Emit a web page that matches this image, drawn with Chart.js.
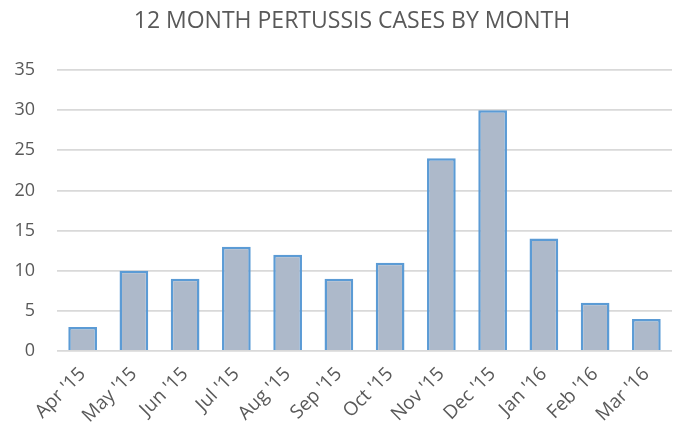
<!DOCTYPE html>
<html>
<head>
<meta charset="utf-8">
<script src="https://cdn.jsdelivr.net/npm/chart.js@4/dist/chart.umd.min.js"></script>
<style>
  html, body { margin: 0; padding: 0; background: #fff; }
  #wrap { width: 680px; height: 438px; }
</style>
</head>
<body>
<div id="wrap"><canvas id="pertussisChart" width="680" height="438"></canvas></div>
<script>
// Monthly pertussis cases, Apr 2015 - Mar 2016
const months = ["Apr '15", "May '15", "Jun '15", "Jul '15", "Aug '15", "Sep '15",
                "Oct '15", "Nov '15", "Dec '15", "Jan '16", "Feb '16", "Mar '16"];
const cases = [3, 10, 9, 13, 12, 9, 11, 24, 30, 14, 6, 4];
const yTicks = [0, 5, 10, 15, 20, 25, 30, 35];

const textColor = '#595959';
const fontFamily = "'Open Sans', 'Noto Sans', sans-serif";

// nudge the title a bit right, like the original
const titleShift = {
  id: 'titleShift',
  afterLayout(chart) {
    if (chart.titleBlock) chart.titleBlock.left += 32;
  }
};

const ctx = document.getElementById('pertussisChart').getContext('2d');
const pertussisChart = new Chart(ctx, {
  type: 'bar',
  data: {
    labels: months,
    datasets: [{
      label: 'Cases',
      data: cases,
      backgroundColor: '#adb9ca',
      borderColor: '#5b9bd5',
      borderWidth: 2.5,
      borderSkipped: 'bottom',
      categoryPercentage: 1,
      barPercentage: 0.56
    }]
  },
  options: {
    responsive: false,
    animation: false,
    layout: { padding: { left: 0, right: 8, top: 0, bottom: 0 } },
    plugins: {
      legend: { display: false },
      tooltip: { enabled: false },
      title: {
        display: true,
        text: '12 MONTH PERTUSSIS CASES BY MONTH',
        color: textColor,
        font: { family: fontFamily, size: 23, weight: 'normal', lineHeight: 1.2 },
        padding: { top: 8, bottom: 34.4 }
      }
    },
    scales: {
      x: {
        grid: { display: false },
        border: { display: false },
        ticks: {
          color: textColor,
          font: { family: fontFamily, size: 19 },
          minRotation: 45,
          maxRotation: 45,
          padding: 4
        },
        afterFit: (scale) => { scale.height = 87; }
      },
      y: {
        min: 0,
        max: 35,
        afterBuildTicks: (scale) => { scale.ticks = yTicks.map(v => ({ value: v })); },
        grid: { color: '#d9d9d9', lineWidth: 1.8, drawTicks: false },
        border: { display: false },
        ticks: {
          color: textColor,
          font: { family: fontFamily, size: 18 },
          padding: 22
        },
        afterFit: (scale) => { scale.width = 57; }
      }
    }
  },
  plugins: [titleShift]
});
</script>
</body>
</html>
